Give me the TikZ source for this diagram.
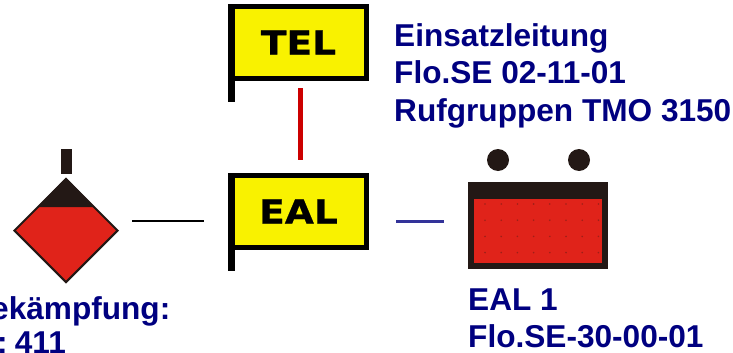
\documentclass[tikz,border=0pt]{standalone}
\usepackage{fontspec}
\usetikzlibrary{shapes.geometric}
\setmainfont{Liberation Sans}
\newfontfamily\flagfont[BoldFeatures={FakeBold=0.6}]{DejaVu Sans}
\definecolor{lab}{HTML}{000080}
\definecolor{rd}{HTML}{E0231A}
\definecolor{dk}{HTML}{231815}
\definecolor{yl}{HTML}{F9F200}
\newcommand{\flagtext}[1]{\scalebox{1.14}[1]{#1}}
\tikzset{x=1pt,y=-1pt,
 flagbox/.style={draw=black,fill=yl,line width=5pt,minimum width=136pt,minimum height=72pt,inner sep=0pt,outer sep=0pt,
   font=\flagfont\bfseries\fontsize{33}{33}\selectfont},
 lbl/.style={anchor=base west,inner sep=0pt,text=lab,font=\bfseries\fontsize{31.6}{31.6}\selectfont},
 conn/.style={line cap=butt}}
\begin{document}
\begin{tikzpicture}
\useasboundingbox (0,0) rectangle (733,353);
% flags
\node[flagbox] (tel) at (298.5,42.5) {\flagtext{TEL}};
\fill[black] (tel.north west) ++(-2.5,0) rectangle (234.5,102);
\node[flagbox] (eal) at (298.5,211.5) {\flagtext{EAL}};
\fill[black] (eal.north west) ++(-2.5,0) rectangle (234.5,271);
% diamond
\node[draw=dk,fill=rd,line width=2pt,diamond,aspect=1,minimum width=104pt,minimum height=104pt,inner sep=0pt] (dia) at (66,230.5) {};
\fill[dk] (dia.north) -- (94.5,207) -- (37.5,207) -- cycle;
\fill[dk] (61,149) rectangle (72,174);
% battery
\node[draw=dk,fill=rd,line width=6pt,minimum width=134pt,minimum height=81pt,inner sep=0pt,outer sep=0pt] (bat) at (538,225.5) {};
\fill[dk] (bat.north west) rectangle ([yshift=-14pt]bat.north east);
\foreach \i in {0,...,7}{\foreach \j in {0,...,3}{\fill[dk!35!rd] (485+16.2*\i,204+16.2*\j) circle (0.9);}}
\node[circle,fill=dk,minimum size=22pt,inner sep=0pt] (c1) at (498,160) {};
\node[circle,fill=dk,minimum size=22pt,inner sep=0pt] (c2) at (579,160) {};
% connectors
\coordinate (r1) at (300.5,88); \coordinate (r2) at (300.5,160);
\draw[conn,draw=red!80!black,line width=5pt] (r1) -- (r2);
\coordinate (k1) at (132,221); \coordinate (k2) at (204,221);
\draw[conn,black,line width=2pt] (k1) -- (k2);
\coordinate (b1) at (396,221); \coordinate (b2) at (444,221);
\draw[conn,draw=lab!80!white,line width=3pt] (b1) -- (b2);
% labels
\node[lbl] (t1) at (394,46.5) {Einsatzleitung};
\node[lbl] (t2) at (394,84) {Flo.SE 02-11-01};
\node[lbl] (t3) at (394,121) {Rufgruppen TMO 3150};
\node[lbl] (t4) at (-9,319.5) {ekämpfung:};
\node[lbl] (t5) at (-3,353) {:\kern-4.5pt{} 411};
\node[lbl] (t6) at (468,310) {EAL 1};
\node[lbl] (t7) at (468,347) {Flo.SE-30-00-01};
\end{tikzpicture}
\end{document}
